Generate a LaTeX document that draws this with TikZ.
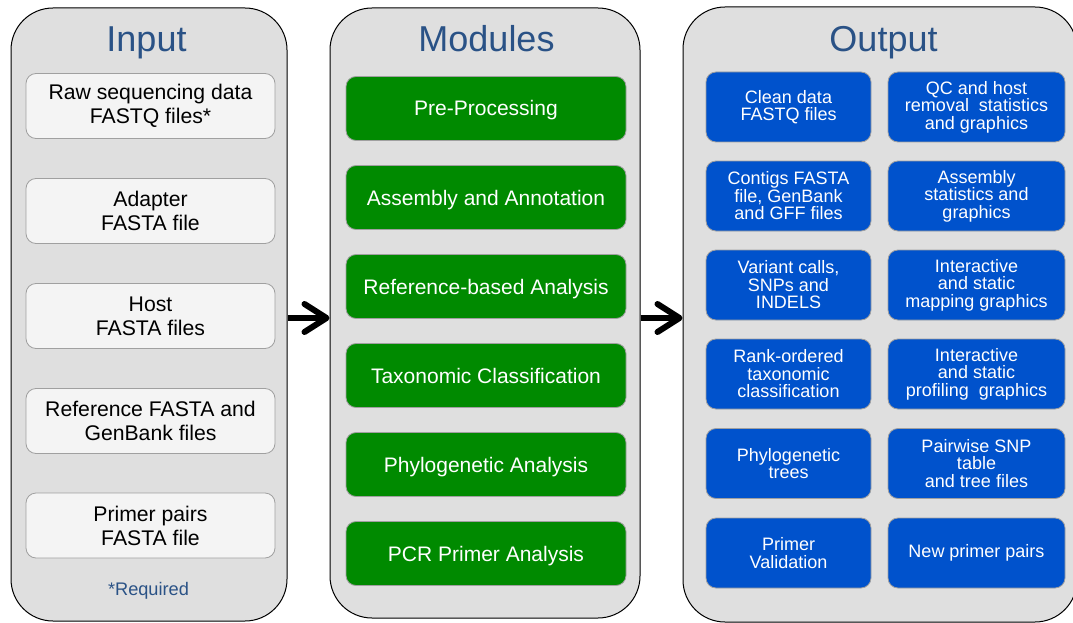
\documentclass[tikz,border=0pt]{standalone}
\usepackage{fontspec}
\setmainfont{Liberation Sans}
\usetikzlibrary{arrows.meta}

\definecolor{panelfill}{HTML}{DFDFDF}
\definecolor{inbox}{HTML}{F4F4F4}
\definecolor{boxedge}{HTML}{A0A0A0}
\definecolor{modgreen}{HTML}{008A00}
\definecolor{outblue}{HTML}{0052CC}
\definecolor{titleblue}{HTML}{2A5286}

\begin{document}
\begin{tikzpicture}[x=1pt,y=-1pt,
  panel/.style={draw=black, line width=1pt, fill=panelfill,
    rounded corners=42pt, inner sep=0pt},
  inputbox/.style={draw=boxedge, line width=0.8pt, fill=inbox,
    rounded corners=10pt, minimum width=249pt, minimum height=65pt,
    inner sep=0pt, align=center, text=black,
    font=\fontsize{21.2}{24}\selectfont},
  modbox/.style={draw=boxedge, line width=0.8pt, fill=modgreen,
    rounded corners=10pt, minimum width=280pt, minimum height=64pt,
    inner sep=0pt, align=center, text=white,
    text height=15pt, text depth=0pt,
    font=\fontsize{21}{24}\selectfont},
  outbox/.style={draw=boxedge, line width=0.8pt, fill=outblue,
    rounded corners=10pt, minimum height=70pt,
    inner sep=0pt, align=center, text=white,
    font=\fontsize{18}{17.5}\selectfont},
  leftcol/.style={outbox, minimum width=165pt},
  rightcol/.style={outbox, minimum width=177pt},
  title/.style={text=titleblue, anchor=base, font=\fontsize{36}{40}\selectfont},
  flow/.style={line width=6pt, draw=black,
    -{Straight Barb[round, length=22pt, width=28pt]}}
]
\useasboundingbox (0,0) rectangle (1073,623);
\fill[white] (0,0) rectangle (1073,623);
\clip (0,0) rectangle (1073,623);

% three column panels
\node[panel, minimum width=276pt, minimum height=613pt] (input)   at (149,314.5) {};
\node[panel, minimum width=310pt, minimum height=610pt] (modules) at (485,313) {};
\node[panel, minimum width=394pt, minimum height=615pt] (output)  at (880,314.5) {};

% panel titles (placed on their baselines)
\node[title] (tin)  at (146.5,51.5) {Input};
\node[title] (tmod) at (486.5,51.5) {Modules};
\node[title] (tout) at (883.5,51.5) {Output};

% inputs
\node[inputbox] (in1) at (150.5,106) {Raw sequencing data\\FASTQ files*};
\node[inputbox] (in2) at (150.5,211) {Adapter\\FASTA file};
\node[inputbox] (in3) at (150.5,316) {Host\\FASTA files};
\node[inputbox] (in4) at (150.5,421) {Reference FASTA and\\GenBank files};
\node[inputbox] (in5) at (150.5,525.5) {Primer pairs\\FASTA file};
\node[text=titleblue, anchor=base, font=\fontsize{18.2}{20}\selectfont] (req) at (148.5,595) {*Required};

% modules
\node[modbox] (m1) at (486,108.5) {Pre-Processing};
\node[modbox] (m2) at (486,197.5) {Assembly and Annotation};
\node[modbox] (m3) at (486,286.5) {Reference-based Analysis};
\node[modbox] (m4) at (486,375.5) {Taxonomic Classification};
\node[modbox] (m5) at (486,464.5) {Phylogenetic Analysis};
\node[modbox] (m6) at (486,553.5) {PCR Primer Analysis};

% outputs
\node[leftcol]  (o1a) at (788.5,107) {Clean data\\FASTQ files};
\node[rightcol] (o1b) at (976.5,107) {QC and host\\removal\ \ statistics\\and graphics};
\node[leftcol]  (o2a) at (788.5,196) {Contigs FASTA\\file, GenBank\\and GFF files};
\node[rightcol] (o2b) at (976.5,196) {Assembly\\statistics and\\graphics};
\node[leftcol]  (o3a) at (788.5,285) {Variant calls,\\SNPs and\\INDELS};
\node[rightcol] (o3b) at (976.5,285) {Interactive\\and static\\mapping graphics};
\node[leftcol]  (o4a) at (788.5,374) {Rank-ordered\\taxonomic\\classification};
\node[rightcol] (o4b) at (976.5,374) {Interactive\\and static\\profiling\ \ graphics};
\node[leftcol]  (o5a) at (788.5,463.5) {Phylogenetic\\trees};
\node[rightcol] (o5b) at (976.5,463.5) {Pairwise SNP\\table\\and tree files};
\node[leftcol]  (o6a) at (788.5,553) {Primer\\Validation};
\node[rightcol] (o6b) at (976.5,553) {New primer pairs};

% flow between panels
\draw[flow] (input.east |- 0,318) -- (modules.west |- 0,318);
\draw[flow] (modules.east |- 0,318) -- (output.west |- 0,318);
\end{tikzpicture}
\end{document}
